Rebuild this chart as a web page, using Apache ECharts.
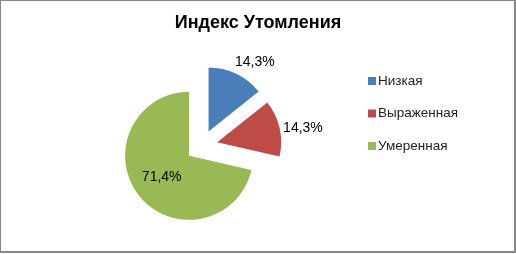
<!DOCTYPE html>
<html>
<head>
<meta charset="utf-8">
<script src="https://cdn.jsdelivr.net/npm/echarts@6/dist/echarts.min.js"></script>
<style>
html,body{margin:0;padding:0;background:#fff;}
#frame{position:absolute;left:0;top:0;width:513px;height:250px;border:1px solid #888;border-width:1px 2px 2px 1px;}
#chart{position:absolute;left:0;top:0;width:516px;height:254px;}
</style>
</head>
<body>
<div id="frame"></div>
<div id="chart"></div>
<script>
const titleText = 'Индекс Утомления';
const categories = ['Низкая', 'Выраженная', 'Умеренная'];
const values = [14.3, 14.3, 71.4];
const colors = ['#4A7EBB', '#BE4B48', '#98B954'];

const labelCfg = [
  {position: 'outside', distanceToLabelLine: -7, line: {length: 13, length2: 0}},
  {position: 'outside', distanceToLabelLine: 3.5, line: {length: 0, length2: 0}},
  {position: 'inside', distanceToLabelLine: 0, line: {length: 0, length2: 0}}
];

const data = categories.map((name, i) => ({
  name: name,
  value: values[i],
  selected: true,
  itemStyle: {color: colors[i]},
  label: {
    position: labelCfg[i].position,
    distanceToLabelLine: labelCfg[i].distanceToLabelLine
  },
  labelLine: {show: false, length: labelCfg[i].line.length, length2: labelCfg[i].line.length2}
}));

const chart = echarts.init(document.getElementById('chart'), null, {renderer: 'canvas'});
chart.setOption({
  animation: false,
  backgroundColor: 'transparent',
  color: colors,
  title: {
    text: titleText,
    left: 'center',
    top: 14,
    padding: 0,
    textStyle: {fontFamily: 'Liberation Sans', fontWeight: 'bold', fontSize: 18, color: '#000'}
  },
  legend: {
    orient: 'vertical',
    left: 368,
    top: 74,
    icon: 'rect',
    itemWidth: 8,
    itemHeight: 8,
    itemGap: 18.5,
    selectedMode: false,
    padding: 0,
    data: categories,
    textStyle: {fontFamily: 'Liberation Sans', fontSize: 13.5, color: '#222', lineHeight: 14, padding: [0, 0, 0, -3]}
  },
  series: [{
    type: 'pie',
    center: [201.6, 145.8],
    radius: 64,
    startAngle: 90,
    clockwise: true,
    selectedMode: 'multiple',
    selectedOffset: 16,
    avoidLabelOverlap: false,
    silent: true,
    itemStyle: {borderWidth: 0},
    label: {
      show: true,
      fontFamily: 'Liberation Sans',
      fontSize: 14,
      color: '#000',
      formatter: p => p.value.toFixed(1).replace('.', ',') + '%'
    },
    emphasis: {disabled: true},
    data: data
  }]
});
</script>
</body>
</html>
